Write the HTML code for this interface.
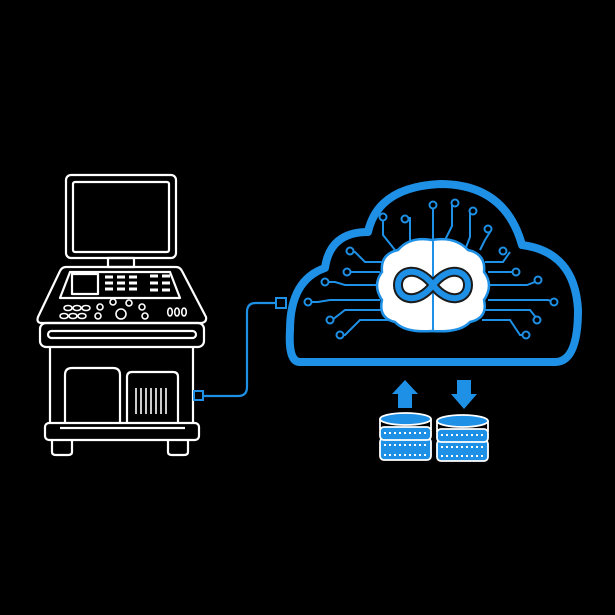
<!DOCTYPE html><html><head><style>html,body{margin:0;background:#000}svg{display:block}</style></head><body>
<svg width="615" height="615" viewBox="0 0 615 615" xmlns="http://www.w3.org/2000/svg">
<rect width="615" height="615" fill="#000"/>
<g fill="none" stroke="#fff" stroke-width="2.2" stroke-linejoin="round">
<rect x="66" y="175" width="110" height="83" rx="5"/>
<rect x="73" y="182" width="96" height="70" rx="2"/>
<rect x="108" y="258" width="26" height="9"/>
<path d="M66 267 H176 Q180 267 182 271 L206 317 Q207 323 200 323 H42 Q36 323 38 317 L60 271 Q62 267 66 267Z"/>
<path d="M70 272 H170 L180 298 H60Z"/>
<rect x="72" y="274" width="26" height="20"/>
<rect x="40" y="323" width="164" height="24" rx="6"/>
<rect x="48" y="331" width="148" height="7" rx="3.5"/>
<path d="M50 347 V423 M193 347 V423"/>
<path d="M65 423 V375 Q65 368 72 368 H113 Q120 368 120 375 V423"/>
<path d="M127 423 V377 Q127 372 132 372 H173 Q178 372 178 377 V423"/>
<rect x="45" y="423" width="154" height="17" rx="4"/>
<path d="M60 428 H185"/>
<path d="M52 440 V452 Q52 455 56 455 H68 Q72 455 72 452 V440 M168 440 V452 Q168 455 172 455 H184 Q188 455 188 452 V440"/>
<g stroke-width="1.6">
<path d="M136 388V414M141 388V414M146 388V414M151 388V414M156 388V414M161 388V414M166 388V414"/>
<ellipse cx="68" cy="308" rx="4" ry="2.5"/><ellipse cx="77" cy="308" rx="4" ry="2.5"/><ellipse cx="86" cy="308" rx="4" ry="2.5"/>
<ellipse cx="64" cy="316" rx="4" ry="2.5"/><ellipse cx="73" cy="316" rx="4" ry="2.5"/><ellipse cx="82" cy="316" rx="4" ry="2.5"/>
<circle cx="100" cy="307" r="3"/><circle cx="113" cy="302" r="3"/><circle cx="129" cy="303" r="3"/><circle cx="142" cy="307" r="3"/>
<circle cx="98" cy="316" r="3"/><circle cx="121" cy="314" r="5"/><circle cx="145" cy="316" r="3"/>
<ellipse cx="170" cy="312" rx="2.3" ry="4"/><ellipse cx="177" cy="312" rx="2.3" ry="4"/><ellipse cx="184" cy="312" rx="2.3" ry="4"/>
<path d="M105 277h8M117 277h8M129 277h8M105 283h8M117 283h8M129 283h8M105 289h8M117 289h8M129 289h8M150 276h8M162 276h8M150 283h8M162 283h8M150 290h8M162 290h8" stroke-width="3"/>
</g>
</g>
<g fill="none" stroke="#1e90e6" stroke-width="2.2">
<rect x="194" y="391" width="9" height="9" stroke-width="2"/>
<path d="M203 396 H238 Q247 396 247 387 V312 Q247 303 256 303 H276"/>
<rect x="276" y="298" width="10" height="10" stroke-width="2"/>
</g>
<path d="M300 362 Q288 362 290 330 Q290 280 325 268 Q330 232 368 232 Q378 187 440 184 Q505 184 522 245 Q575 252 578 310 Q578 362 555 362Z" fill="none" stroke="#1e90e6" stroke-width="8" stroke-linejoin="round"/>
<g fill="none" stroke="#1e90e6" stroke-width="2">
<path d="M395 250 L383 235 V220 M410 250 V217 M433 240 V207 M445 240 L452 226 V205 M465 250 L470 237 V213 M480 250 L485 240 L490 232"/>
<path d="M385 262 H365 L355 252 H350 M380 272 H347 M378 285 H345 L335 282 H325 M380 300 H330 L318 302 H308 M385 310 H345 L332 320 H330 M388 320 H360 L345 335 H340"/>
<path d="M485 262 H503 L510 252 H510 M488 272 H515 M490 285 H527 L535 282 H538 M488 300 H548 L555 302 H553 M485 310 H530 L538 320 H537 M482 320 H510 L520 335 H525"/>
</g>
<g fill="#000" stroke="#1e90e6" stroke-width="2">
<circle cx="405" cy="219" r="3.5"/><circle cx="383" cy="217" r="3.5"/><circle cx="433" cy="205" r="3.5"/><circle cx="455" cy="203" r="3.5"/><circle cx="473" cy="211" r="3.5"/><circle cx="488" cy="229" r="3.5"/>
<circle cx="350" cy="251" r="3.5"/><circle cx="347" cy="272" r="3.5"/><circle cx="325" cy="282" r="3.5"/><circle cx="308" cy="302" r="3.5"/><circle cx="330" cy="320" r="3.5"/><circle cx="340" cy="335" r="3.5"/>
<circle cx="503" cy="251" r="3.5"/><circle cx="516" cy="272" r="3.5"/><circle cx="538" cy="280" r="3.5"/><circle cx="554" cy="302" r="3.5"/><circle cx="537" cy="320" r="3.5"/><circle cx="526" cy="335" r="3.5"/>
</g>
<path d="M432 240 Q410 236 398 250 Q380 254 382 272 Q372 285 382 300 Q378 318 395 322 Q405 333 432 331 Q460 333 470 322 Q488 318 484 300 Q494 285 484 272 Q486 254 468 250 Q455 236 432 240Z" fill="#fff" stroke="#1e90e6" stroke-width="2.5"/>
<path d="M433 238 V332" stroke="#1e90e6" stroke-width="2"/>
<path d="M433 285 C418 265 398 270 398 285 C398 300 418 305 433 285 C448 265 468 270 468 285 C468 300 448 305 433 285Z" fill="none" stroke="#1a1a1a" stroke-width="10"/>
<path d="M433 285 C418 265 398 270 398 285 C398 300 418 305 433 285 C448 265 468 270 468 285 C468 300 448 305 433 285Z" fill="none" stroke="#1e90e6" stroke-width="6"/>
<path d="M398 408 V394 H392 L405 380 L418 394 H412 V408Z M457 380 V394 H451 L464 409 L477 394 H471 V380Z" fill="#1e90e6"/>
<g fill="#1e90e6" stroke="#fff" stroke-width="1.8">
<rect x="380" y="438" width="51" height="22" rx="4"/>
<rect x="380" y="427" width="51" height="13" rx="4"/>
<ellipse cx="405.5" cy="419" rx="25.5" ry="6"/>
<path d="M380 419 V430 M431 419 V430"/>
<rect x="437" y="440" width="51" height="21" rx="4"/>
<rect x="437" y="429" width="51" height="13" rx="4"/>
<ellipse cx="462.5" cy="421" rx="25.5" ry="6"/>
<path d="M437 421 V432 M488 421 V432"/>
</g>
<g stroke="#fff" stroke-width="2" stroke-dasharray="2 3">
<path d="M384 433H428M384 445H428M384 455H428M441 435H485M441 447H485M441 456H485"/>
</g>
</svg>
</body></html>
